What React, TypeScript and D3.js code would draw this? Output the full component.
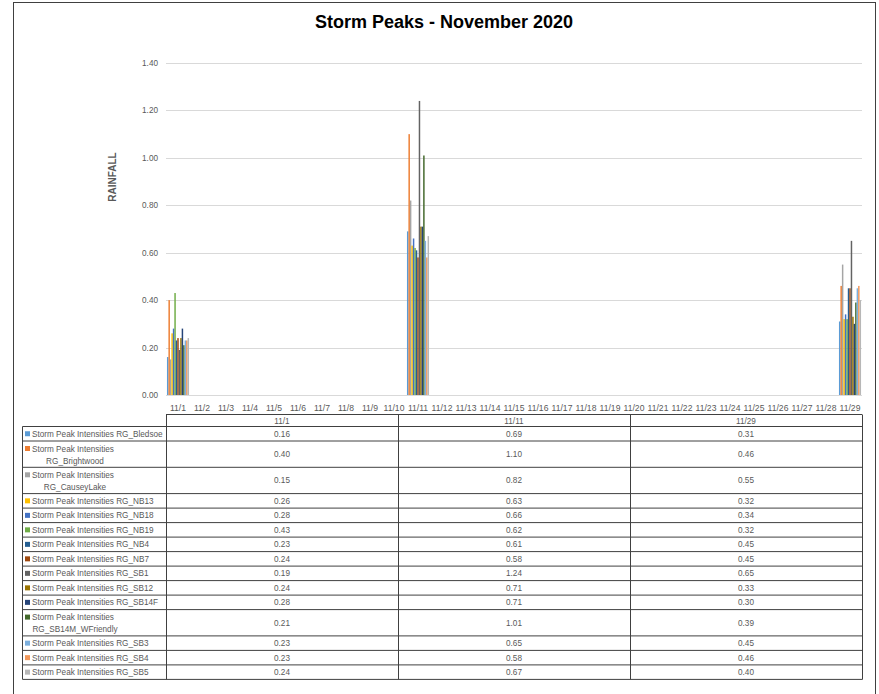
import React, { useEffect, useRef } from "react";
import * as d3 from "d3";

/* DATA */
const days = [
  "11/1", "11/2", "11/3", "11/4", "11/5", "11/6", "11/7", "11/8", "11/9", "11/10",
  "11/11", "11/12", "11/13", "11/14", "11/15", "11/16", "11/17", "11/18", "11/19", "11/20",
  "11/21", "11/22", "11/23", "11/24", "11/25", "11/26", "11/27", "11/28", "11/29",
];
const peakDays = ["11/1", "11/11", "11/29"];
const gauges = [
  "RG_Bledsoe", "RG_Brightwood", "RG_CauseyLake", "RG_NB13", "RG_NB18", "RG_NB19",
  "RG_NB4", "RG_NB7", "RG_SB1", "RG_SB12", "RG_SB14F", "RG_SB14M_WFriendly",
  "RG_SB3", "RG_SB4", "RG_SB5",
];
const peaksNov1 = [0.16, 0.4, 0.15, 0.26, 0.28, 0.43, 0.23, 0.24, 0.19, 0.24, 0.28, 0.21, 0.23, 0.23, 0.24];
const peaksNov11 = [0.69, 1.1, 0.82, 0.63, 0.66, 0.62, 0.61, 0.58, 1.24, 0.71, 0.71, 1.01, 0.65, 0.58, 0.67];
const peaksNov29 = [0.31, 0.46, 0.55, 0.32, 0.34, 0.32, 0.45, 0.45, 0.65, 0.33, 0.3, 0.39, 0.45, 0.46, 0.4];
const yTicks = [0, 0.2, 0.4, 0.6, 0.8, 1.0, 1.2, 1.4];
// rows whose label wraps onto two lines in the data table
const wrappedRows = ["RG_Brightwood", "RG_CauseyLake", "RG_SB14M_WFriendly"];

const colors = [
  "#5B9BD5", "#ED7D31", "#A5A5A5", "#FFC000", "#4472C4", "#70AD47",
  "#255E91", "#9E480E", "#636363", "#997300", "#264478", "#43682B",
  "#7CAFDD", "#F1975A", "#B7B7B7",
];

const App = () => {
  const ref = useRef<SVGSVGElement>(null);

  useEffect(() => {
    const width = 879;
    const height = 694;
    const font = "'Liberation Sans', Arial, sans-serif";
    const textGray = "#595959";
    const lineColor = "#404040";
    const small = 8.2;

    const svg = d3.select(ref.current);
    svg.selectAll("*").remove();
    svg.attr("width", width).attr("height", height);

    svg.append("rect").attr("width", width).attr("height", height).attr("fill", "white");

    /* outer border (bottom edge runs past the frame) */
    svg
      .append("rect")
      .attr("x", 13.5)
      .attr("y", 2.5)
      .attr("width", 862)
      .attr("height", 700)
      .attr("fill", "none")
      .attr("stroke", lineColor)
      .attr("stroke-width", 1);

    /* title */
    svg
      .append("text")
      .attr("x", 444)
      .attr("y", 28)
      .attr("text-anchor", "middle")
      .attr("font-family", font)
      .attr("font-weight", "bold")
      .attr("font-size", 18)
      .attr("fill", "#000")
      .text("Storm Peaks - November 2020");

    /* scales */
    const x = d3.scaleBand().domain(days).range([166, 862]).paddingInner(0.08).paddingOuter(0.04);
    const xInner = d3.scaleBand().domain(gauges).range([0, x.bandwidth()]);
    const y = d3.scaleLinear().domain([0, 1.4]).range([395, 63]);

    /* gridlines */
    svg
      .append("g")
      .selectAll("line")
      .data(yTicks)
      .join("line")
      .attr("x1", 166)
      .attr("x2", 862)
      .attr("y1", (d) => Math.round(y(d)) + 0.5)
      .attr("y2", (d) => Math.round(y(d)) + 0.5)
      .attr("stroke", "#D9D9D9")
      .attr("stroke-width", 1);

    svg
      .append("g")
      .selectAll("text")
      .data(yTicks)
      .join("text")
      .attr("x", 158)
      .attr("y", (d) => y(d) + 3)
      .attr("text-anchor", "end")
      .attr("font-family", font)
      .attr("font-size", small)
      .attr("fill", textGray)
      .text((d) => d.toFixed(2));

    svg
      .append("text")
      .attr("transform", `translate(116,177) rotate(-90)`)
      .attr("text-anchor", "middle")
      .attr("font-family", font)
      .attr("font-weight", "bold")
      .attr("font-size", 10)
      .attr("fill", textGray)
      .text("RAINFALL");

    /* bars */
    const series = [peaksNov1, peaksNov11, peaksNov29];
    const barData: any[] = [];
    peakDays.forEach((day, di) => {
      gauges.forEach((g, gi) => {
        barData.push({ day, g, gi, value: series[di][gi] });
      });
    });

    svg
      .append("g")
      .selectAll("rect")
      .data(barData)
      .join("rect")
      .attr("x", (d: any) => x(d.day)! + xInner(d.g)!)
      .attr("width", xInner.bandwidth())
      .attr("y", (d: any) => y(d.value))
      .attr("height", (d: any) => y(0) - y(d.value))
      .attr("fill", (d: any) => colors[d.gi]);

    /* x labels */
    svg
      .append("g")
      .selectAll("text")
      .data(days)
      .join("text")
      .attr("x", (d) => x(d)! + x.bandwidth() / 2)
      .attr("y", 411)
      .attr("text-anchor", "middle")
      .attr("font-family", font)
      .attr("font-size", 8.6)
      .attr("fill", textGray)
      .text((d) => d);

    /* data table */
    const table = svg.append("g");
    const colEdges = [166, 398, 630, 862];
    const headTop = 414.5;
    const headBottom = 426.5;
    const singleH = 14.5;
    const doubleH = 26.3;

    const rowTops: number[] = [];
    let cy = headBottom;
    gauges.forEach((g) => {
      rowTops.push(cy);
      cy += wrappedRows.includes(g) ? doubleH : singleH;
    });
    const tableBottom = cy;

    // header row
    table
      .append("line")
      .attr("x1", colEdges[0])
      .attr("x2", colEdges[3])
      .attr("y1", headTop)
      .attr("y2", headTop)
      .attr("stroke", lineColor);
    table
      .selectAll(".hdr")
      .data(peakDays)
      .join("text")
      .attr("class", "hdr")
      .attr("x", (d, i) => (colEdges[i] + colEdges[i + 1]) / 2)
      .attr("y", headBottom - 3)
      .attr("text-anchor", "middle")
      .attr("font-family", font)
      .attr("font-size", small)
      .attr("fill", textGray)
      .text((d) => d);

    // vertical lines
    colEdges.forEach((cx) => {
      table
        .append("line")
        .attr("x1", cx + 0.5)
        .attr("x2", cx + 0.5)
        .attr("y1", headTop)
        .attr("y2", tableBottom)
        .attr("stroke", lineColor);
    });
    table
      .append("line")
      .attr("x1", 22.5)
      .attr("x2", 22.5)
      .attr("y1", headBottom)
      .attr("y2", tableBottom)
      .attr("stroke", lineColor);

    // horizontal lines
    [...rowTops, tableBottom].forEach((ry) => {
      table
        .append("line")
        .attr("x1", 22.5)
        .attr("x2", colEdges[3] + 0.5)
        .attr("y1", ry)
        .attr("y2", ry)
        .attr("stroke", lineColor);
    });

    // row labels + values
    gauges.forEach((g, i) => {
      const top = rowTops[i];
      const wrapped = wrappedRows.includes(g);
      const h = wrapped ? doubleH : singleH;
      const firstBase = wrapped ? top + 10.5 : top + h / 2 + 3;

      table
        .append("rect")
        .attr("x", 25)
        .attr("y", firstBase - 5.5)
        .attr("width", 5)
        .attr("height", 5)
        .attr("fill", colors[i]);

      if (wrapped) {
        table
          .append("text")
          .attr("x", 32)
          .attr("y", firstBase)
          .attr("font-family", font)
          .attr("font-size", small)
          .attr("fill", textGray)
          .text("Storm Peak Intensities");
        table
          .append("text")
          .attr("x", 75)
          .attr("y", firstBase + 12)
          .attr("text-anchor", "middle")
          .attr("font-family", font)
          .attr("font-size", small)
          .attr("fill", textGray)
          .text(g);
      } else {
        table
          .append("text")
          .attr("x", 32)
          .attr("y", firstBase)
          .attr("font-family", font)
          .attr("font-size", small)
          .attr("fill", textGray)
          .text("Storm Peak Intensities " + g);
      }

      series.forEach((vals, di) => {
        table
          .append("text")
          .attr("x", (colEdges[di] + colEdges[di + 1]) / 2)
          .attr("y", top + h / 2 + 3)
          .attr("text-anchor", "middle")
          .attr("font-family", font)
          .attr("font-size", small)
          .attr("fill", textGray)
          .text(vals[i].toFixed(2));
      });
    });
  }, []);

  return (
    <div style={{ position: "absolute", left: 0, top: 0 }}>
      <svg ref={ref} style={{ display: "block" }} />
    </div>
  );
};

export default App;
